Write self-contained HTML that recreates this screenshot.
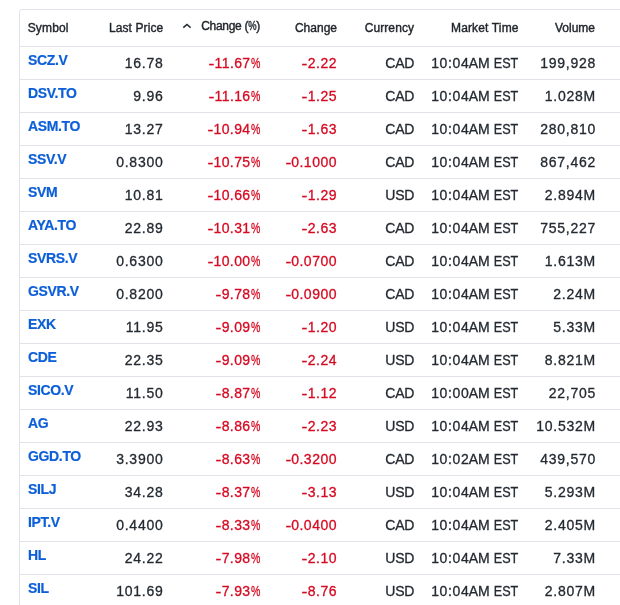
<!DOCTYPE html><html><head><meta charset="utf-8"><title>Losers</title><style>
*{margin:0;padding:0;box-sizing:border-box}
html,body{width:620px;height:605px;overflow:hidden;background:#fff}
body{font-family:"Liberation Sans",Arial,sans-serif;color:#232a31;position:relative}
.t{position:absolute;left:19px;top:9px;width:640px;height:640px;border:1px solid #e0e4e9;border-radius:3px}
.ln{position:absolute;left:20px;width:600px;height:1px;background:#e0e4e9}
.h{position:absolute;top:0;font-size:12px;line-height:14px;white-space:nowrap;color:#1e242a;-webkit-text-stroke:0.4px currentColor}
.c{position:absolute;font-size:14px;line-height:16px;white-space:nowrap;letter-spacing:0.75px;-webkit-text-stroke:0.3px currentColor}
.p{display:inline-block;transform:scaleX(.75);transform-origin:100% 50%;margin-left:-3px;letter-spacing:0}
.s{position:absolute;left:28px;font-size:14px;font-weight:bold;line-height:16px;color:#0c5fd8;white-space:nowrap;letter-spacing:-0.35px;-webkit-text-stroke:0.2px currentColor}
.r{color:#d60a22}
.td{letter-spacing:0.65px}
.es{display:inline-block;transform:scaleX(.9);transform-origin:100% 50%;margin-left:-2.6px}
.m{display:inline-block;transform:translate(0.2px,0.9px) scaleX(1.25);margin-right:0.5px}
.pc{letter-spacing:0.4px}
.ch{letter-spacing:0.5px}
.hp{display:inline-block;transform:scaleX(.78);margin:0 -1.3px;letter-spacing:0}
.tm{letter-spacing:0}
.cur{letter-spacing:-0.3px}
.car{position:absolute;left:182px;top:23px;width:9px;height:6px}
</style></head><body>
<div class="t"></div>
<div class="h" style="left:27.7px;letter-spacing:0.15px;top:20.94px">Symbol</div>
<div class="h" style="right:456.70px;letter-spacing:0.1px;top:20.94px">Last Price</div>
<div class="h" style="right:360.00px;letter-spacing:0px;top:19.04px"><span style="letter-spacing:-0.3px">Change (<span class=hp>%</span>)</span></div>
<div class="h" style="right:283.00px;letter-spacing:0px;top:20.94px">Change</div>
<div class="h" style="right:205.90px;letter-spacing:0.1px;top:20.94px">Currency</div>
<div class="h" style="right:101.35px;letter-spacing:0.15px;top:20.94px">Market Time</div>
<div class="h" style="right:25.00px;letter-spacing:0.0px;top:20.94px">Volume</div>
<svg class="car" viewBox="0 0 9 6"><path d="M1.3 4.7 L5 1.5 L8.7 4.7" fill="none" stroke="#232a31" stroke-width="1.6"/></svg>
<div class="ln" style="top:46px"></div>
<div class="s" style="top:52.05px">SCZ.V</div>
<div class="c" style="right:456.5px;top:55.45px">16.78</div>
<div class="c r pc" style="right:360.0px;top:55.45px"><span class=m>-</span>11.67<span class=p>%</span></div>
<div class="c r ch" style="right:283.0px;top:55.45px"><span class=m>-</span>2.22</div>
<div class="c cur" style="right:206.0px;top:55.45px">CAD</div>
<div class="c tm" style="right:101.7px;top:55.45px"><span class=td>10:0</span>4AM <span class=es>EST</span></div>
<div class="c" style="right:24.0px;top:55.45px">199,928</div>
<div class="ln" style="top:79px"></div>
<div class="s" style="top:85.05px">DSV.TO</div>
<div class="c" style="right:456.5px;top:88.45px">9.96</div>
<div class="c r pc" style="right:360.0px;top:88.45px"><span class=m>-</span>11.16<span class=p>%</span></div>
<div class="c r ch" style="right:283.0px;top:88.45px"><span class=m>-</span>1.25</div>
<div class="c cur" style="right:206.0px;top:88.45px">CAD</div>
<div class="c tm" style="right:101.7px;top:88.45px"><span class=td>10:0</span>4AM <span class=es>EST</span></div>
<div class="c" style="right:24.0px;top:88.45px">1.028M</div>
<div class="ln" style="top:112px"></div>
<div class="s" style="top:118.05px">ASM.TO</div>
<div class="c" style="right:456.5px;top:121.45px">13.27</div>
<div class="c r pc" style="right:360.0px;top:121.45px"><span class=m>-</span>10.94<span class=p>%</span></div>
<div class="c r ch" style="right:283.0px;top:121.45px"><span class=m>-</span>1.63</div>
<div class="c cur" style="right:206.0px;top:121.45px">CAD</div>
<div class="c tm" style="right:101.7px;top:121.45px"><span class=td>10:0</span>4AM <span class=es>EST</span></div>
<div class="c" style="right:24.0px;top:121.45px">280,810</div>
<div class="ln" style="top:145px"></div>
<div class="s" style="top:151.05px">SSV.V</div>
<div class="c" style="right:456.5px;top:154.45px">0.8300</div>
<div class="c r pc" style="right:360.0px;top:154.45px"><span class=m>-</span>10.75<span class=p>%</span></div>
<div class="c r ch" style="right:283.0px;top:154.45px"><span class=m>-</span>0.1000</div>
<div class="c cur" style="right:206.0px;top:154.45px">CAD</div>
<div class="c tm" style="right:101.7px;top:154.45px"><span class=td>10:0</span>4AM <span class=es>EST</span></div>
<div class="c" style="right:24.0px;top:154.45px">867,462</div>
<div class="ln" style="top:178px"></div>
<div class="s" style="top:184.05px">SVM</div>
<div class="c" style="right:456.5px;top:187.45px">10.81</div>
<div class="c r pc" style="right:360.0px;top:187.45px"><span class=m>-</span>10.66<span class=p>%</span></div>
<div class="c r ch" style="right:283.0px;top:187.45px"><span class=m>-</span>1.29</div>
<div class="c cur" style="right:206.0px;top:187.45px">USD</div>
<div class="c tm" style="right:101.7px;top:187.45px"><span class=td>10:0</span>4AM <span class=es>EST</span></div>
<div class="c" style="right:24.0px;top:187.45px">2.894M</div>
<div class="ln" style="top:211px"></div>
<div class="s" style="top:217.05px">AYA.TO</div>
<div class="c" style="right:456.5px;top:220.45px">22.89</div>
<div class="c r pc" style="right:360.0px;top:220.45px"><span class=m>-</span>10.31<span class=p>%</span></div>
<div class="c r ch" style="right:283.0px;top:220.45px"><span class=m>-</span>2.63</div>
<div class="c cur" style="right:206.0px;top:220.45px">CAD</div>
<div class="c tm" style="right:101.7px;top:220.45px"><span class=td>10:0</span>4AM <span class=es>EST</span></div>
<div class="c" style="right:24.0px;top:220.45px">755,227</div>
<div class="ln" style="top:244px"></div>
<div class="s" style="top:250.05px">SVRS.V</div>
<div class="c" style="right:456.5px;top:253.45px">0.6300</div>
<div class="c r pc" style="right:360.0px;top:253.45px"><span class=m>-</span>10.00<span class=p>%</span></div>
<div class="c r ch" style="right:283.0px;top:253.45px"><span class=m>-</span>0.0700</div>
<div class="c cur" style="right:206.0px;top:253.45px">CAD</div>
<div class="c tm" style="right:101.7px;top:253.45px"><span class=td>10:0</span>4AM <span class=es>EST</span></div>
<div class="c" style="right:24.0px;top:253.45px">1.613M</div>
<div class="ln" style="top:277px"></div>
<div class="s" style="top:283.05px">GSVR.V</div>
<div class="c" style="right:456.5px;top:286.45px">0.8200</div>
<div class="c r pc" style="right:360.0px;top:286.45px"><span class=m>-</span>9.78<span class=p>%</span></div>
<div class="c r ch" style="right:283.0px;top:286.45px"><span class=m>-</span>0.0900</div>
<div class="c cur" style="right:206.0px;top:286.45px">CAD</div>
<div class="c tm" style="right:101.7px;top:286.45px"><span class=td>10:0</span>4AM <span class=es>EST</span></div>
<div class="c" style="right:24.0px;top:286.45px">2.24M</div>
<div class="ln" style="top:310px"></div>
<div class="s" style="top:316.05px">EXK</div>
<div class="c" style="right:456.5px;top:319.45px">11.95</div>
<div class="c r pc" style="right:360.0px;top:319.45px"><span class=m>-</span>9.09<span class=p>%</span></div>
<div class="c r ch" style="right:283.0px;top:319.45px"><span class=m>-</span>1.20</div>
<div class="c cur" style="right:206.0px;top:319.45px">USD</div>
<div class="c tm" style="right:101.7px;top:319.45px"><span class=td>10:0</span>4AM <span class=es>EST</span></div>
<div class="c" style="right:24.0px;top:319.45px">5.33M</div>
<div class="ln" style="top:343px"></div>
<div class="s" style="top:349.05px">CDE</div>
<div class="c" style="right:456.5px;top:352.45px">22.35</div>
<div class="c r pc" style="right:360.0px;top:352.45px"><span class=m>-</span>9.09<span class=p>%</span></div>
<div class="c r ch" style="right:283.0px;top:352.45px"><span class=m>-</span>2.24</div>
<div class="c cur" style="right:206.0px;top:352.45px">USD</div>
<div class="c tm" style="right:101.7px;top:352.45px"><span class=td>10:0</span>4AM <span class=es>EST</span></div>
<div class="c" style="right:24.0px;top:352.45px">8.821M</div>
<div class="ln" style="top:376px"></div>
<div class="s" style="top:382.05px">SICO.V</div>
<div class="c" style="right:456.5px;top:385.45px">11.50</div>
<div class="c r pc" style="right:360.0px;top:385.45px"><span class=m>-</span>8.87<span class=p>%</span></div>
<div class="c r ch" style="right:283.0px;top:385.45px"><span class=m>-</span>1.12</div>
<div class="c cur" style="right:206.0px;top:385.45px">CAD</div>
<div class="c tm" style="right:101.7px;top:385.45px"><span class=td>10:0</span>0AM <span class=es>EST</span></div>
<div class="c" style="right:24.0px;top:385.45px">22,705</div>
<div class="ln" style="top:409px"></div>
<div class="s" style="top:415.05px">AG</div>
<div class="c" style="right:456.5px;top:418.45px">22.93</div>
<div class="c r pc" style="right:360.0px;top:418.45px"><span class=m>-</span>8.86<span class=p>%</span></div>
<div class="c r ch" style="right:283.0px;top:418.45px"><span class=m>-</span>2.23</div>
<div class="c cur" style="right:206.0px;top:418.45px">USD</div>
<div class="c tm" style="right:101.7px;top:418.45px"><span class=td>10:0</span>4AM <span class=es>EST</span></div>
<div class="c" style="right:24.0px;top:418.45px">10.532M</div>
<div class="ln" style="top:442px"></div>
<div class="s" style="top:448.05px">GGD.TO</div>
<div class="c" style="right:456.5px;top:451.45px">3.3900</div>
<div class="c r pc" style="right:360.0px;top:451.45px"><span class=m>-</span>8.63<span class=p>%</span></div>
<div class="c r ch" style="right:283.0px;top:451.45px"><span class=m>-</span>0.3200</div>
<div class="c cur" style="right:206.0px;top:451.45px">CAD</div>
<div class="c tm" style="right:101.7px;top:451.45px"><span class=td>10:0</span>2AM <span class=es>EST</span></div>
<div class="c" style="right:24.0px;top:451.45px">439,570</div>
<div class="ln" style="top:475px"></div>
<div class="s" style="top:481.05px">SILJ</div>
<div class="c" style="right:456.5px;top:484.45px">34.28</div>
<div class="c r pc" style="right:360.0px;top:484.45px"><span class=m>-</span>8.37<span class=p>%</span></div>
<div class="c r ch" style="right:283.0px;top:484.45px"><span class=m>-</span>3.13</div>
<div class="c cur" style="right:206.0px;top:484.45px">USD</div>
<div class="c tm" style="right:101.7px;top:484.45px"><span class=td>10:0</span>4AM <span class=es>EST</span></div>
<div class="c" style="right:24.0px;top:484.45px">5.293M</div>
<div class="ln" style="top:508px"></div>
<div class="s" style="top:514.05px">IPT.V</div>
<div class="c" style="right:456.5px;top:517.45px">0.4400</div>
<div class="c r pc" style="right:360.0px;top:517.45px"><span class=m>-</span>8.33<span class=p>%</span></div>
<div class="c r ch" style="right:283.0px;top:517.45px"><span class=m>-</span>0.0400</div>
<div class="c cur" style="right:206.0px;top:517.45px">CAD</div>
<div class="c tm" style="right:101.7px;top:517.45px"><span class=td>10:0</span>4AM <span class=es>EST</span></div>
<div class="c" style="right:24.0px;top:517.45px">2.405M</div>
<div class="ln" style="top:541px"></div>
<div class="s" style="top:547.05px">HL</div>
<div class="c" style="right:456.5px;top:550.45px">24.22</div>
<div class="c r pc" style="right:360.0px;top:550.45px"><span class=m>-</span>7.98<span class=p>%</span></div>
<div class="c r ch" style="right:283.0px;top:550.45px"><span class=m>-</span>2.10</div>
<div class="c cur" style="right:206.0px;top:550.45px">USD</div>
<div class="c tm" style="right:101.7px;top:550.45px"><span class=td>10:0</span>4AM <span class=es>EST</span></div>
<div class="c" style="right:24.0px;top:550.45px">7.33M</div>
<div class="ln" style="top:574px"></div>
<div class="s" style="top:580.05px">SIL</div>
<div class="c" style="right:456.5px;top:583.45px">101.69</div>
<div class="c r pc" style="right:360.0px;top:583.45px"><span class=m>-</span>7.93<span class=p>%</span></div>
<div class="c r ch" style="right:283.0px;top:583.45px"><span class=m>-</span>8.76</div>
<div class="c cur" style="right:206.0px;top:583.45px">USD</div>
<div class="c tm" style="right:101.7px;top:583.45px"><span class=td>10:0</span>4AM <span class=es>EST</span></div>
<div class="c" style="right:24.0px;top:583.45px">2.807M</div>
<div class="ln" style="top:607px"></div>
</body></html>
